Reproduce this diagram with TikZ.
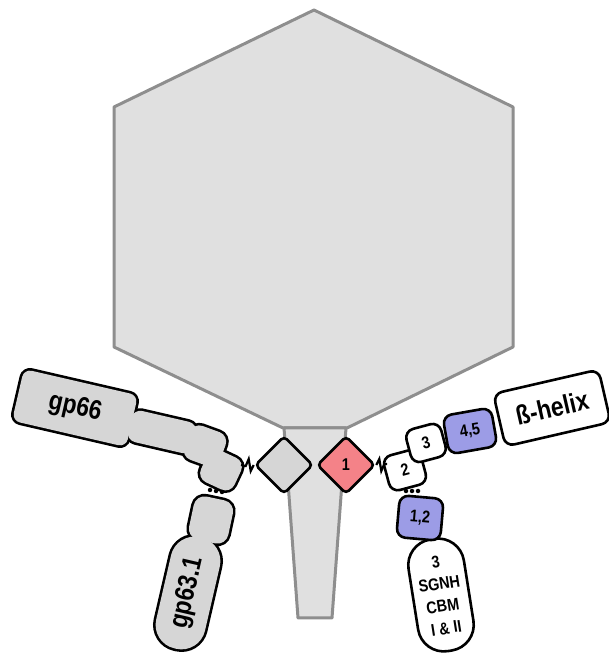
\documentclass[tikz,border=0pt]{standalone}
\usepackage{fontspec}
\setmainfont{Liberation Sans}
\usetikzlibrary{shapes.geometric}

\definecolor{capsidfill}{RGB}{224,224,224}
\definecolor{capsidline}{RGB}{142,142,142}
\definecolor{domgray}{RGB}{214,214,214}
\definecolor{domred}{RGB}{244,130,136}
\definecolor{domblue}{RGB}{156,156,230}

% labels are set a little narrower than the font
\newcommand{\lbl}[1]{\scalebox{0.85}[1]{#1}}

\begin{document}
\begin{tikzpicture}[
    x=1pt, y=1pt,
    capsid/.style={draw=capsidline, fill=capsidfill, line width=3pt, line join=round},
    dom/.style={rectangle, draw, line width=2.6pt, inner sep=0pt, rounded corners=9pt,
        align=center, font=\bfseries\fontsize{17}{22.5}\selectfont},
    bigdom/.style={dom, font=\bfseries\fontsize{27}{29}\selectfont},
    shell/.style={rectangle, draw, line width=5.2pt, fill=domgray, inner sep=0pt},
    core/.style={rectangle, fill=domgray, inner sep=0pt, font=\bfseries\fontsize{27}{29}\selectfont},
    plate/.style={diamond, draw, line width=2.6pt, inner sep=0pt, minimum size=58pt,
        rounded corners=4pt, font=\bfseries\fontsize{17}{21}\selectfont},
    hinge/.style={draw, line width=2.2pt, line join=miter},
    bead/.style={circle, fill, inner sep=0pt, minimum size=4.5pt}
]
\useasboundingbox (0,0) rectangle (608,658);

% head and tail tube
\draw[capsid] (314,648) -- (513,551) -- (513,311) -- (347,230) -- (283,230) -- (114,311) -- (114,551) -- cycle;
\draw[capsid] (284,230) -- (346,230) -- (332,40) -- (298,40) -- cycle;

% baseplate
\node[plate, fill=domgray] (gdia) at (284,193) {};
\node[plate, fill=domred] (rdia) at (346,193) {\lbl{1}};

% left fibre: thick outline first, then fill over it so the domains merge
\foreach \n/\x/\y/\w/\h/\a/\r in {gp66/75/250/117/53/-13/8, s1/162/226/66/32/-13/9,
    s2/205/212/38/36/-20/10, s3/221/188/37/35/-25/10,
    s4/211/138/40/44/-12/11, gp63/188/65/114/50/77/24}
  \node[shell, minimum width=\w, minimum height=\h, rotate=\a, rounded corners=\r] (\n-o) at (\x,\y) {};

\node[core, minimum width=117, minimum height=53, rotate=-13, rounded corners=8] (gp66) at (75,250) {\lbl{gp66}};
\node[core, minimum width=66, minimum height=32, rotate=-13, rounded corners=9] (s1) at (162,226) {};
\node[core, minimum width=38, minimum height=36, rotate=-20, rounded corners=10] (s2) at (205,212) {};
\node[core, minimum width=37, minimum height=35, rotate=-25, rounded corners=10] (s3) at (221,188) {};
\node[core, minimum width=40, minimum height=44, rotate=-12, rounded corners=11] (s4) at (211,138) {};
\node[core, minimum width=114, minimum height=50, rotate=77, rounded corners=24] (gp63) at (188,65) {\lbl{gp63.1}};

\foreach \i/\x/\y in {1/210/168, 2/216/167, 3/222/166}
  \node[bead] (lb\i) at (\x,\y) {};

% right fibre
\node[dom, fill=white, minimum width=38, minimum height=36, rotate=15] (d2) at (405,188) {\lbl{2}};
\node[dom, fill=white, minimum width=36, minimum height=34, rotate=15] (d3) at (426,215) {\lbl{3}};
\node[dom, fill=domblue, minimum width=49, minimum height=39, rotate=10] (d45) at (470,227) {\lbl{4,5}};
\node[bigdom, fill=white, minimum width=108, minimum height=54, rotate=13] (helix) at (552,250) {\lbl{ß-helix}};
\node[dom, fill=white, minimum width=56, minimum height=113, rounded corners=26, rotate=9] (sgnh) at (441,63)
  {\lbl{3}\\\lbl{SGNH}\\\lbl{CBM}\\\lbl{I \& II}};
\node[dom, fill=domblue, minimum width=44, minimum height=42, rotate=-5] (d12) at (420,140) {\lbl{1,2}};

\foreach \i/\x in {1/406, 2/412, 3/418}
  \node[bead] (rb\i) at (\x,167) {};

% hinges to the baseplate
\coordinate (lh) at (241,193);
\coordinate (rh) at (387,194);
\draw[hinge] (gdia.west) -- ++(-3,-6) -- ++(-2,12) -- ++(-3,-7) -- (lh);
\draw[hinge] (rdia.east) -- ++(3,6) -- ++(2,-12) -- ++(3,7) -- (rh);

\end{tikzpicture}
\end{document}
